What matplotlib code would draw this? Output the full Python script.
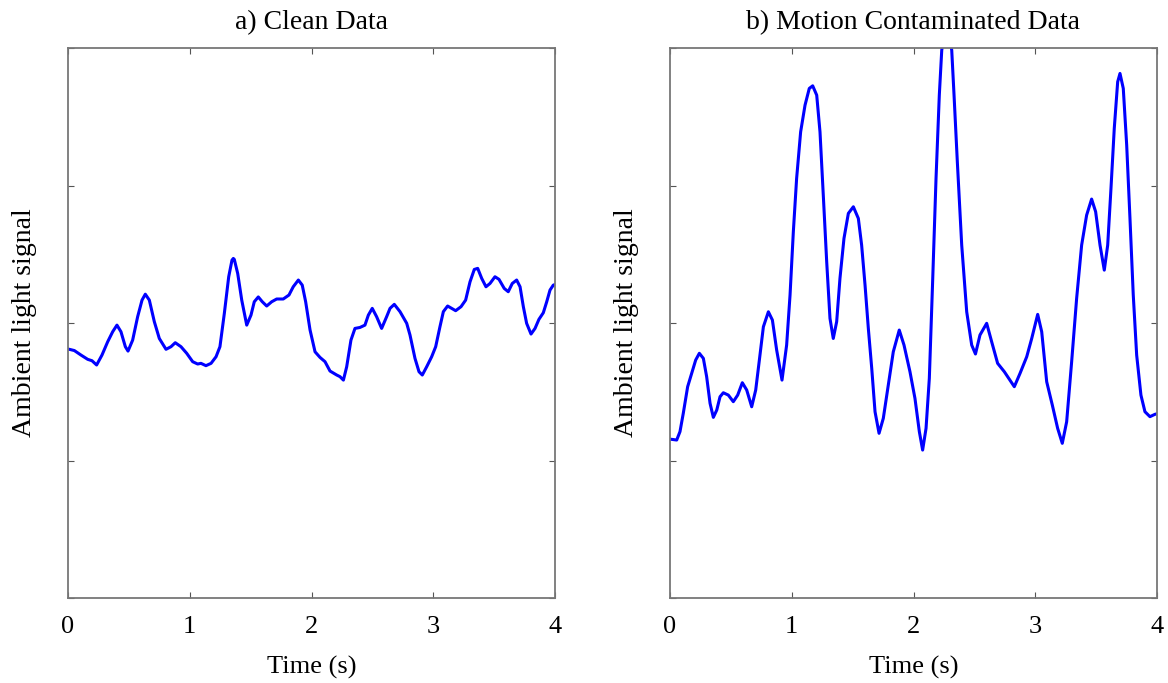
import numpy as np
import matplotlib.pyplot as plt

plt.rcParams['font.family'] = ['Liberation Serif', 'DejaVu Serif']

# a) clean data (time in s, signal in arbitrary units)
t_clean = [0.0, 0.011, 0.052, 0.107, 0.162, 0.197, 0.235, 0.279, 0.326, 0.367,
           0.402, 0.435, 0.471, 0.493, 0.531, 0.572, 0.608, 0.635, 0.668, 0.709,
           0.75, 0.805, 0.846, 0.881, 0.928, 0.975, 1.024, 1.065, 1.092, 1.133,
           1.175, 1.216, 1.248, 1.284, 1.32, 1.347, 1.358, 1.366, 1.394, 1.427,
           1.468, 1.503, 1.53, 1.563, 1.596, 1.632, 1.673, 1.714, 1.768, 1.815,
           1.85, 1.892, 1.924, 1.952, 1.988, 2.029, 2.07, 2.111, 2.152, 2.207,
           2.234, 2.262, 2.289, 2.324, 2.357, 2.398, 2.439, 2.467, 2.499, 2.535,
           2.576, 2.617, 2.645, 2.68, 2.727, 2.782, 2.809, 2.85, 2.883, 2.91,
           2.946, 2.987, 3.02, 3.055, 3.083, 3.118, 3.151, 3.184, 3.228, 3.266,
           3.302, 3.337, 3.365, 3.398, 3.433, 3.466, 3.507, 3.54, 3.583, 3.616,
           3.649, 3.685, 3.713, 3.74, 3.767, 3.803, 3.836, 3.868, 3.904, 3.932,
           3.959, 3.986, 4.0]
y_clean = [1.81, 1.809, 1.80, 1.767, 1.736, 1.726, 1.695, 1.767, 1.864, 1.937,
           1.985, 1.937, 1.828, 1.796, 1.876, 2.046, 2.167, 2.21, 2.167, 2.01,
           1.888, 1.809, 1.828, 1.857, 1.828, 1.78, 1.719, 1.702, 1.707, 1.69,
           1.707, 1.755, 1.828, 2.07, 2.337, 2.458, 2.47, 2.463, 2.36, 2.167,
           1.985, 2.058, 2.155, 2.19, 2.155, 2.124, 2.155, 2.175, 2.175, 2.204,
           2.264, 2.313, 2.276, 2.155, 1.95, 1.791, 1.75, 1.719, 1.651, 1.622,
           1.61, 1.585, 1.682, 1.876, 1.961, 1.968, 1.985, 2.058, 2.107, 2.046,
           1.961, 2.046, 2.107, 2.136, 2.083, 1.998, 1.913, 1.743, 1.646, 1.622,
           1.682, 1.755, 1.828, 1.973, 2.083, 2.124, 2.107, 2.09, 2.119, 2.167,
           2.30, 2.39, 2.398, 2.325, 2.264, 2.288, 2.337, 2.318, 2.252, 2.228,
           2.288, 2.313, 2.264, 2.119, 1.998, 1.92, 1.961, 2.027, 2.075, 2.155,
           2.24, 2.276, 2.28]

# b) motion contaminated data
t_motion = [0.0, 0.014, 0.055, 0.082, 0.109, 0.145, 0.178, 0.211, 0.241, 0.274,
            0.301, 0.329, 0.356, 0.384, 0.411, 0.438, 0.479, 0.52, 0.556, 0.594,
            0.63, 0.671, 0.704, 0.734, 0.767, 0.808, 0.841, 0.876, 0.92, 0.958,
            0.986, 1.013, 1.04, 1.073, 1.109, 1.144, 1.172, 1.205, 1.232, 1.259,
            1.287, 1.314, 1.341, 1.369, 1.396, 1.429, 1.465, 1.506, 1.547, 1.574,
            1.602, 1.629, 1.657, 1.684, 1.717, 1.752, 1.793, 1.834, 1.883, 1.922,
            1.971, 2.012, 2.048, 2.075, 2.103, 2.13, 2.158, 2.185, 2.212, 2.232,
            2.255, 2.273, 2.29, 2.314, 2.333, 2.36, 2.396, 2.437, 2.478, 2.509,
            2.546, 2.601, 2.642, 2.691, 2.746, 2.828, 2.875, 2.93, 2.971, 3.02,
            3.053, 3.094, 3.14, 3.184, 3.222, 3.258, 3.299, 3.34, 3.381, 3.422,
            3.463, 3.496, 3.532, 3.567, 3.595, 3.622, 3.649, 3.677, 3.696, 3.723,
            3.751, 3.778, 3.805, 3.833, 3.868, 3.901, 3.942, 3.983, 4.0]
y_motion = [1.155, 1.154, 1.149, 1.21, 1.343, 1.537, 1.634, 1.731, 1.78, 1.743,
            1.61, 1.416, 1.314, 1.367, 1.464, 1.493, 1.476, 1.428, 1.476, 1.566,
            1.513, 1.391, 1.513, 1.731, 1.973, 2.082, 2.022, 1.804, 1.585, 1.84,
            2.204, 2.664, 3.052, 3.391, 3.585, 3.707, 3.726, 3.658, 3.391, 2.931,
            2.446, 2.034, 1.888, 2.01, 2.325, 2.616, 2.798, 2.846, 2.761, 2.567,
            2.276, 1.961, 1.67, 1.355, 1.198, 1.307, 1.549, 1.791, 1.949, 1.84,
            1.646, 1.452, 1.21, 1.076, 1.234, 1.598, 2.325, 3.052, 3.658, 3.985,
            4.12, 4.18, 4.12, 3.985, 3.658, 3.173, 2.567, 2.082, 1.84, 1.775,
            1.913, 1.998, 1.864, 1.707, 1.646, 1.537, 1.634, 1.755, 1.888, 2.063,
            1.937, 1.573, 1.404, 1.234, 1.125, 1.282, 1.719, 2.18, 2.567, 2.785,
            2.902, 2.81, 2.567, 2.385, 2.567, 2.98, 3.416, 3.755, 3.816, 3.707,
            3.295, 2.761, 2.204, 1.767, 1.476, 1.355, 1.319, 1.336, 1.34]

titles = ['a) Clean Data', 'b) Motion Contaminated Data']
series = [(t_clean, y_clean), (t_motion, y_motion)]

fig = plt.figure(figsize=(11.68, 6.83), dpi=100)
lefts = [68 / 1168, 670 / 1168]

for left, title, (t, y) in zip(lefts, titles, series):
    ax = fig.add_axes([left, 0.1245, 487 / 1168, 0.805])
    ax.plot(t, y, color='#0000ff', linewidth=2.2,
            solid_joinstyle='round', solid_capstyle='round')
    ax.set_xlim(0, 4)
    ax.set_ylim(0, 4)
    ax.set_xticks([0, 1, 2, 3, 4])
    ax.set_yticks([0, 1, 2, 3, 4])
    ax.set_yticklabels([])
    ax.tick_params(direction='in', top=True, right=True, length=4,
                   color='#555555', labelsize=19, pad=13)
    for s in ax.spines.values():
        s.set_color('#777777')
        s.set_linewidth(1.3)
    ax.set_title(title, fontsize=20, pad=14)
    ax.set_xlabel('Time (s)', fontsize=19, labelpad=13)
    ax.set_ylabel('Ambient light signal', fontsize=20, labelpad=9)

fig.savefig('out.png', dpi=100)
